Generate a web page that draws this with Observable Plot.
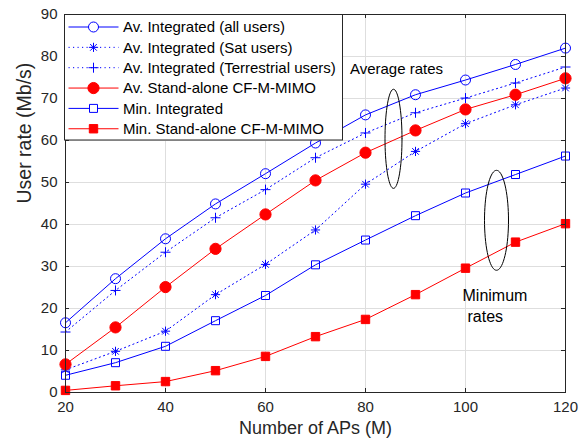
<!DOCTYPE html>
<html>
<head>
<meta charset="utf-8">
<script src="https://cdn.jsdelivr.net/npm/d3@7"></script>
<script src="https://cdn.jsdelivr.net/npm/@observablehq/plot@0.6"></script>
<style>
  html, body { margin: 0; padding: 0; background: #fff; }
  #chart { width: 587px; height: 446px; }
</style>
</head>
<body>
<div id="chart"></div>
<script>
// ---------- data ----------
const aps = [20, 30, 40, 50, 60, 70, 80, 90, 100, 110, 120];
const avIntegratedAll = [16.6, 27.1, 36.6, 44.9, 52.1, 59.4, 66.1, 70.9, 74.4, 78.1, 82.0];
const avIntegratedSat = [5.4, 9.8, 14.6, 23.3, 30.5, 38.7, 49.6, 57.4, 64.0, 68.5, 72.5];
const avIntegratedTer = [14.4, 24.3, 33.4, 41.6, 48.3, 55.9, 61.8, 66.6, 70.1, 73.7, 77.5];
const avStandalone = [6.7, 15.5, 25.1, 34.2, 42.4, 50.5, 57.1, 62.4, 67.4, 70.9, 74.8];
const minIntegrated = [4.1, 7.1, 11.0, 17.1, 23.1, 30.4, 36.3, 42.1, 47.5, 51.9, 56.3];
const minStandalone = [0.5, 1.6, 2.6, 5.2, 8.6, 13.3, 17.4, 23.3, 29.6, 35.8, 40.2];
const seriesNames = [
  "Av. Integrated (all users)",
  "Av. Integrated (Sat users)",
  "Av. Integrated (Terrestrial users)",
  "Av. Stand-alone CF-M-MIMO",
  "Min. Integrated",
  "Min. Stand-alone CF-M-MIMO"
];
const xTicks = [20, 40, 60, 80, 100, 120];
const yTicks = [0, 10, 20, 30, 40, 50, 60, 70, 80, 90];
const xLabel = "Number of APs (M)";
const yLabel = "User rate (Mb/s)";
// annotations (data units)
const noteTexts = ["Average rates", "Minimum", "rates"];
const noteX = [86.2, 99.4, 100.4];
const noteY = [77.0, 22.9, 17.9];
const ellipseCx = [85.6, 106.2];
const ellipseCy = [60.4, 41.0];
const ellipseRx = [1.7, 2.4];
const ellipseRy = [11.8, 11.9];

// ---------- marker shapes (MATLAB-like) ----------
const rad = size => Math.sqrt(size / Math.PI);
const mCircle = { draw(c, s) { const r = rad(s); c.moveTo(r, 0); c.arc(0, 0, r, 0, 2 * Math.PI); } };
const mSquare = { draw(c, s) { const r = rad(s); c.moveTo(-r, -r); c.lineTo(r, -r); c.lineTo(r, r); c.lineTo(-r, r); c.closePath(); } };
const mPlus = { draw(c, s) { const r = rad(s); c.moveTo(-r, 0); c.lineTo(r, 0); c.moveTo(0, -r); c.lineTo(0, r); } };
const mStar = { draw(c, s) { const r = rad(s); const d = r * 0.72;
  c.moveTo(-r, 0); c.lineTo(r, 0); c.moveTo(0, -r); c.lineTo(0, r);
  c.moveTo(-d, -d); c.lineTo(d, d); c.moveTo(-d, d); c.lineTo(d, -d); } };

const blue = "#0000ff", red = "#ff0000";
const styles = [
  { color: blue, dash: null, symbol: mCircle, filled: false, r: 5 },
  { color: blue, dash: "1.2,3.3", symbol: mStar, filled: false, r: 4.6 },
  { color: blue, dash: "1.2,3.3", symbol: mPlus, filled: false, r: 5 },
  { color: red, dash: null, symbol: mCircle, filled: true, r: 5.6 },
  { color: blue, dash: null, symbol: mSquare, filled: false, r: 4 },
  { color: red, dash: null, symbol: mSquare, filled: true, r: 4.2 }
];
const seriesValues = [avIntegratedAll, avIntegratedSat, avIntegratedTer, avStandalone, minIntegrated, minStandalone];

const rows = seriesNames.map((name, i) => aps.map((m, j) => ({ series: name, m, v: seriesValues[i][j] })));

const ellipses = ellipseCx.flatMap((cx, k) =>
  d3.range(0, 73).map(t => {
    const a = t / 72 * 2 * Math.PI;
    return { id: k, x: cx + ellipseRx[k] * Math.cos(a), y: ellipseCy[k] + ellipseRy[k] * Math.sin(a) };
  }));

const ink = "#262626";
const font = "'Liberation Sans', Arial, Helvetica, sans-serif";
const W = 587, H = 446, mL = 65, mR = 22, mT = 14, mB = 54;
const innerH = H - mT - mB, innerW = W - mL - mR, tk = 4;

const marks = [
  Plot.gridX(xTicks, { stroke: "#dedede", strokeOpacity: 1 }),
  Plot.gridY(yTicks, { stroke: "#dedede", strokeOpacity: 1 })
];
rows.forEach((data, i) => {
  const s = styles[i];
  marks.push(Plot.line(data, { x: "m", y: "v", stroke: s.color, strokeWidth: 1, strokeDasharray: s.dash }));
});
rows.forEach((data, i) => {
  const s = styles[i];
  marks.push(Plot.dot(data, { x: "m", y: "v", symbol: () => s.symbol, r: s.r,
    stroke: s.color, strokeWidth: 1, fill: s.filled ? s.color : "none" }));
});
marks.push(
  Plot.line(ellipses, { x: "x", y: "y", z: "id", stroke: "#000", strokeWidth: 1 }),
  Plot.text(noteTexts.slice(0, 1), { x: (d, i) => noteX[i], y: (d, i) => noteY[i], text: d => d,
    textAnchor: "middle", fontSize: 15, fill: "#000" }),
  Plot.text(noteTexts.slice(1), { x: (d, i) => noteX[i + 1], y: (d, i) => noteY[i + 1], text: d => d,
    textAnchor: "start", fontSize: 16, fill: "#000" }),
  Plot.frame({ stroke: ink, strokeWidth: 1 }),
  // inward ticks on all sides
  Plot.tickX(xTicks, { x: d => d, insetTop: innerH - tk, stroke: ink }),
  Plot.tickX(xTicks, { x: d => d, insetBottom: innerH - tk, stroke: ink }),
  Plot.tickY(yTicks, { y: d => d, insetRight: innerW - tk, stroke: ink }),
  Plot.tickY(yTicks, { y: d => d, insetLeft: innerW - tk, stroke: ink }),
  // tick labels
  Plot.text(xTicks, { x: d => d, frameAnchor: "bottom", dy: 19, text: d => String(d), fontSize: 15, fill: ink }),
  Plot.text(yTicks, { y: d => d, frameAnchor: "left", dx: -8, textAnchor: "end", text: d => String(d), fontSize: 15, fill: ink }),
  // axis labels
  Plot.text([xLabel], { frameAnchor: "bottom", dy: 41, text: d => d, fontSize: 18, fill: ink }),
  Plot.text([yLabel], { frameAnchor: "left", dx: -41, rotate: -90, text: d => d, fontSize: 19.5, fill: ink })
);

const svgEl = Plot.plot({
  width: W, height: H,
  marginLeft: mL, marginRight: mR, marginTop: mT, marginBottom: mB,
  x: { domain: [20, 120], axis: null },
  y: { domain: [0, 90], axis: null },
  style: { fontFamily: font, fontSize: "15px", background: "#fff", color: ink, overflow: "visible" },
  marks
});
document.getElementById("chart").appendChild(svgEl);

// ---------- legend (inside plot, top-left) ----------
const svg = d3.select(svgEl);
const lg = svg.append("g").attr("font-family", font).attr("font-size", 15).attr("text-anchor", "start");
const lx = 64.5, ly = 14.5, lw = 278, lh = 125.5, step = 20.35;
lg.append("rect").attr("x", lx).attr("y", ly).attr("width", lw).attr("height", lh)
  .attr("fill", "#fff").attr("stroke", ink).attr("stroke-width", 1);
seriesNames.forEach((name, i) => {
  const s = styles[i];
  const cy = ly + 12.5 + i * step;
  lg.append("line").attr("x1", lx + 4).attr("x2", lx + 54).attr("y1", cy).attr("y2", cy)
    .attr("stroke", s.color).attr("stroke-width", 1).attr("stroke-dasharray", s.dash);
  lg.append("path").attr("d", d3.symbol(s.symbol, s.r * s.r * Math.PI)())
    .attr("transform", `translate(${lx + 29},${cy})`)
    .attr("stroke", s.color).attr("fill", s.filled ? s.color : "#fff").attr("stroke-width", 1);
  lg.append("text").attr("x", lx + 58.5).attr("y", cy).attr("dy", "0.35em")
    .attr("text-anchor", "start").attr("fill", "#000").text(name);
});
</script>
</body>
</html>
